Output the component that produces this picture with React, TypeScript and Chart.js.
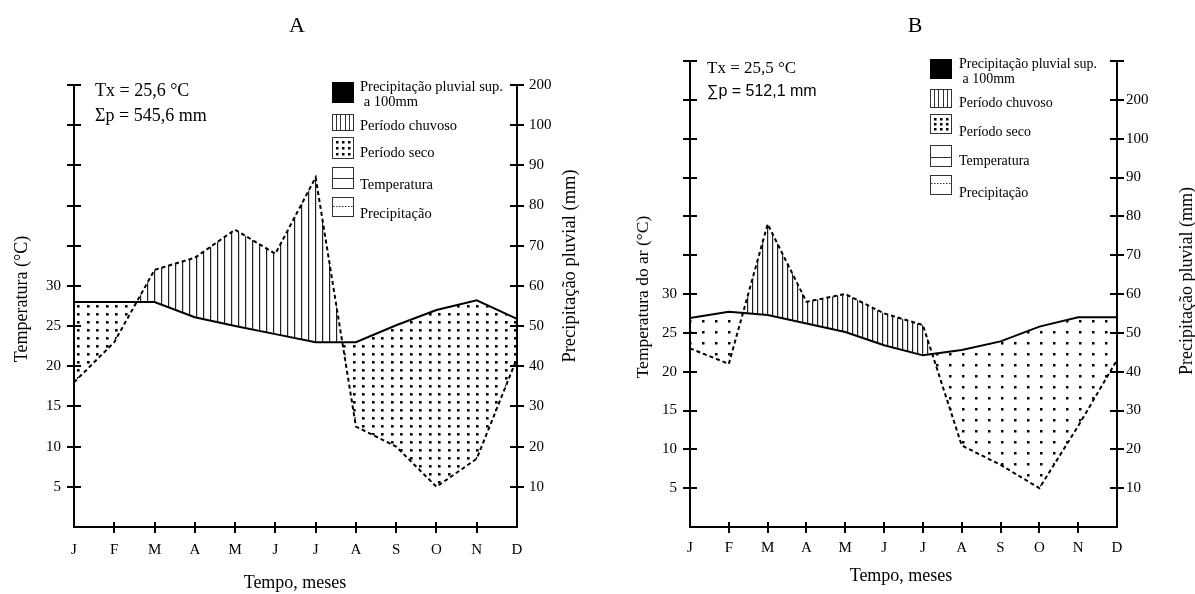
import React, { useEffect, useRef } from "react";
import { Chart, registerables } from "chart.js";

Chart.register(...registerables);

const months = ["J", "F", "M", "A", "M", "J", "J", "A", "S", "O", "N", "D"];
const temperatureA = [28.0, 28.0, 28.0, 26.1, 25.0, 24.0, 23.0, 23.0, 25.1, 27.0, 28.2, 25.9];
const precipitationA = [36, 46, 64, 67, 74, 68, 87, 25, 20, 10, 17, 42];
const temperatureB = [26.9, 27.7, 27.3, 26.2, 25.1, 23.4, 22.1, 22.8, 23.9, 25.8, 27.0, 27.0];
const precipitationB = [46, 42, 78, 58, 60, 55, 52, 21, 16, 10, 26, 43];
const temperatureTickLabels = [5, 10, 15, 20, 25, 30];
const precipitationTickLabels = ["10", "20", "30", "40", "50", "60", "70", "80", "90", "100", "200"];
const legendLabels = [
  "Precipitação pluvial sup.",
  " a 100mm",
  "Período chuvoso",
  "Período seco",
  "Temperatura",
  "Precipitação",
];

const SERIF = "'Liberation Serif', 'Times New Roman', serif";
const SANS = "'Liberation Sans', Arial, sans-serif";

type Panel = {
  letter: string;
  temp: number[];
  precip: number[];
  tMax: number;
  pMax: number;
  width: number;
  offsetX: number;
  area: { left: number; right: number; top: number; bottom: number };
  LW: number;
  RW: number;
  XH: number;
  xPad: number;
  yPad: number;
  y2Pad: number;
  leftTitle: string;
  leftTitlePos: [number, number, number];
  rightTitlePos: [number, number, number];
  xTitlePos: [number, number, number];
  letterPos: [number, number];
  tx: string;
  sp: string;
  txPos: [number, number, number];
  spPos: [number, number, number];
  spFont: string;
  hatch: number;
  dotX: number;
  dotY: number;
  dotS: number;
  leg: {
    boxX: number;
    boxW: number;
    textX: number;
    font: number;
    black: [number, number];
    hatchBox: [number, number];
    dots: [number, number];
    temp: [number, number, number];
    prec: [number, number, number];
    textY: number[];
  };
};

const panelA: Panel = {
  letter: "A",
  temp: temperatureA,
  precip: precipitationA,
  tMax: 55,
  pMax: 110,
  width: 597,
  offsetX: 0,
  area: { left: 74, right: 517, top: 85, bottom: 527 },
  LW: 74,
  RW: 60,
  XH: 66,
  xPad: 14,
  yPad: 13,
  y2Pad: 12,
  leftTitle: "Temperatura (°C)",
  leftTitlePos: [22, 299, 18],
  rightTitlePos: [570, 266, 18.5],
  xTitlePos: [295, 583, 18],
  letterPos: [297, 26],
  tx: "Tx = 25,6 °C",
  sp: "Σp = 545,6 mm",
  txPos: [95, 96, 18],
  spPos: [95, 121, 18],
  spFont: SERIF,
  hatch: 7,
  dotX: 9.5,
  dotY: 8,
  dotS: 2.6,
  leg: {
    boxX: 332,
    boxW: 22,
    textX: 360,
    font: 14.5,
    black: [82, 103],
    hatchBox: [114, 131],
    dots: [137, 159],
    temp: [167, 189, 178],
    prec: [197, 217, 206],
    textY: [86, 101, 125, 152, 184, 213],
  },
};

const panelB: Panel = {
  letter: "B",
  temp: temperatureB,
  precip: precipitationB,
  tMax: 60,
  pMax: 120,
  width: 598,
  offsetX: 597,
  area: { left: 93, right: 520, top: 61, bottom: 527 },
  LW: 93,
  RW: 60,
  XH: 59,
  xPad: 12,
  yPad: 13,
  y2Pad: 9,
  leftTitle: "Temperatura do ar (°C)",
  leftTitlePos: [46, 297, 17.5],
  rightTitlePos: [590, 281, 18],
  xTitlePos: [304, 576, 18],
  letterPos: [318, 26],
  tx: "Tx = 25,5 °C",
  sp: "∑p = 512,1 mm",
  txPos: [110, 73, 17],
  spPos: [110, 96, 16],
  spFont: SANS,
  hatch: 5,
  dotX: 13,
  dotY: 11,
  dotS: 2.5,
  leg: {
    boxX: 333,
    boxW: 22,
    textX: 362,
    font: 14,
    black: [59, 79],
    hatchBox: [89, 108],
    dots: [114, 134],
    temp: [145, 167, 157],
    prec: [175, 195, 183],
    textY: [63, 78, 102, 131, 160, 192],
  },
};

function makeHatch(ctx: CanvasRenderingContext2D, spacing: number) {
  const c = document.createElement("canvas");
  c.width = spacing;
  c.height = 16;
  const g = c.getContext("2d")!;
  g.fillStyle = "#222";
  g.fillRect(0, 0, 1.2, 16);
  return ctx.createPattern(c, "repeat")!;
}

function makeDots(ctx: CanvasRenderingContext2D, sx: number, sy: number, s: number) {
  const w = Math.round(sx * 2);
  const h = Math.round(sy * 2);
  const c = document.createElement("canvas");
  c.width = w;
  c.height = h;
  const g = c.getContext("2d")!;
  g.fillStyle = "#000";
  for (let i = 0; i < 2; i++) {
    for (let j = 0; j < 2; j++) {
      g.fillRect(1 + Math.round(i * (w / 2)), 1 + Math.round(j * (h / 2)), s, s);
    }
  }
  return ctx.createPattern(c, "repeat")!;
}

function seg(ctx: CanvasRenderingContext2D, x1: number, y1: number, x2: number, y2: number) {
  ctx.beginPath();
  ctx.moveTo(x1, y1);
  ctx.lineTo(x2, y2);
  ctx.stroke();
}

function makeDecor(p: Panel) {
  return {
    id: "decor" + p.letter,
    afterDraw(chart: any) {
      const ctx: CanvasRenderingContext2D = chart.ctx;
      const ca = chart.chartArea;
      const xs = chart.scales.x;
      const ys = chart.scales.y;
      const y2s = chart.scales.y2;
      ctx.save();
      ctx.strokeStyle = "#000";
      ctx.lineWidth = 2;
      for (let v = 5; v <= p.tMax; v += 5) {
        const py = Math.round(ys.getPixelForValue(v));
        seg(ctx, ca.left - 7, py, ca.left + 7, py);
      }
      for (let v = 10; v <= p.pMax; v += 10) {
        const py = Math.round(y2s.getPixelForValue(v));
        seg(ctx, ca.right - 7, py, ca.right + 7, py);
      }
      for (let i = 1; i < months.length - 1; i++) {
        const px = Math.round(xs.getPixelForValue(i));
        seg(ctx, px, ca.bottom - 5, px, ca.bottom + 6);
      }

      ctx.fillStyle = "#000";
      ctx.textAlign = "center";
      ctx.textBaseline = "middle";
      ctx.font = `22px ${SERIF}`;
      ctx.fillText(p.letter, p.letterPos[0], p.letterPos[1]);
      ctx.font = `${p.xTitlePos[2]}px ${SERIF}`;
      ctx.fillText("Tempo, meses", p.xTitlePos[0], p.xTitlePos[1]);
      ctx.save();
      ctx.translate(p.leftTitlePos[0], p.leftTitlePos[1]);
      ctx.rotate(-Math.PI / 2);
      ctx.font = `${p.leftTitlePos[2]}px ${SERIF}`;
      ctx.fillText(p.leftTitle, 0, 0);
      ctx.restore();
      ctx.save();
      ctx.translate(p.rightTitlePos[0], p.rightTitlePos[1]);
      ctx.rotate(-Math.PI / 2);
      ctx.font = `${p.rightTitlePos[2]}px ${SERIF}`;
      ctx.fillText("Precipitação pluvial (mm)", 0, 0);
      ctx.restore();

      ctx.textAlign = "left";
      ctx.textBaseline = "alphabetic";
      ctx.font = `${p.txPos[2]}px ${SERIF}`;
      ctx.fillText(p.tx, p.txPos[0], p.txPos[1]);
      ctx.font = `${p.spPos[2]}px ${p.spFont}`;
      ctx.fillText(p.sp, p.spPos[0], p.spPos[1]);

      const L = p.leg;
      const bx = L.boxX;
      const bw = L.boxW;
      ctx.fillRect(bx, L.black[0], bw, L.black[1] - L.black[0]);
      ctx.lineWidth = 1;
      ctx.strokeStyle = "#333";
      ctx.strokeRect(bx + 0.5, L.hatchBox[0] + 0.5, bw - 1, L.hatchBox[1] - L.hatchBox[0] - 1);
      for (let x = bx + 4; x < bx + bw - 1; x += 4.3) {
        seg(ctx, Math.round(x) + 0.5, L.hatchBox[0], Math.round(x) + 0.5, L.hatchBox[1]);
      }
      ctx.strokeRect(bx + 0.5, L.dots[0] + 0.5, bw - 1, L.dots[1] - L.dots[0] - 1);
      const dh = L.dots[1] - L.dots[0];
      for (let i = 0; i < 3; i++) {
        for (let j = 0; j < 3; j++) {
          ctx.fillRect(
            Math.round(bx + 4 + i * ((bw - 10) / 2)),
            Math.round(L.dots[0] + 4 + j * ((dh - 10) / 2)),
            2.5,
            2.5
          );
        }
      }
      ctx.strokeRect(bx + 0.5, L.temp[0] + 0.5, bw - 1, L.temp[1] - L.temp[0] - 1);
      seg(ctx, bx, L.temp[2] + 0.5, bx + bw, L.temp[2] + 0.5);
      ctx.strokeRect(bx + 0.5, L.prec[0] + 0.5, bw - 1, L.prec[1] - L.prec[0] - 1);
      ctx.setLineDash([1.5, 1.5]);
      seg(ctx, bx + 1, L.prec[2] + 0.5, bx + bw - 1, L.prec[2] + 0.5);
      ctx.setLineDash([]);
      ctx.font = `${L.font}px ${SERIF}`;
      ctx.textBaseline = "middle";
      legendLabels.forEach((s, i) => {
        ctx.fillText(s, L.textX, L.textY[i] + 1);
      });
      ctx.restore();
    },
  };
}

function ClimateChart({ panel }: { panel: Panel }) {
  const ref = useRef<HTMLCanvasElement | null>(null);
  useEffect(() => {
    const canvas = ref.current!;
    const ctx = canvas.getContext("2d")!;
    const p = panel;
    const hatch = makeHatch(ctx, p.hatch);
    const dots = makeDots(ctx, p.dotX, p.dotY, p.dotS);
    const tickFont = { family: SERIF, size: 15 };
    const chart = new Chart(canvas, {
      type: "line",
      data: {
        labels: months,
        datasets: [
          {
            label: "Temperatura",
            data: p.temp,
            yAxisID: "y",
            borderColor: "#000",
            borderWidth: 2,
            pointRadius: 0,
            tension: 0,
            fill: false,
          },
          {
            label: "Precipitação",
            data: p.precip,
            yAxisID: "y2",
            borderColor: "#000",
            borderWidth: 2,
            borderDash: [4, 3],
            pointRadius: 0,
            tension: 0,
            fill: { target: 0, above: hatch as any, below: dots as any },
          },
        ],
      },
      options: {
        responsive: false,
        animation: false,
        devicePixelRatio: 1,
        layout: {
          padding: {
            left: 0,
            right: p.width - p.area.right - p.RW,
            top: p.area.top,
            bottom: 594 - p.area.bottom - p.XH,
          },
        },
        plugins: {
          legend: { display: false },
          tooltip: { enabled: false },
          title: { display: false },
        },
        scales: {
          x: {
            type: "category",
            offset: false,
            grid: { display: false, drawTicks: false },
            border: { display: true, width: 2, color: "#000" },
            ticks: {
              padding: p.xPad,
              color: "#000",
              font: tickFont,
              autoSkip: false,
              maxRotation: 0,
            },
            afterFit: (s: any) => {
              s.height = p.XH;
            },
          },
          y: {
            type: "linear",
            position: "left",
            min: 0,
            max: p.tMax,
            grid: { display: false, drawTicks: false },
            border: { display: true, width: 2, color: "#000" },
            ticks: {
              stepSize: 5,
              padding: p.yPad,
              color: "#000",
              font: tickFont,
              autoSkip: false,
              callback: (v: any) => (temperatureTickLabels.includes(Number(v)) ? String(v) : ""),
            },
            afterFit: (s: any) => {
              s.width = p.LW;
            },
          },
          y2: {
            type: "linear",
            position: "right",
            min: 0,
            max: p.pMax,
            grid: { display: false, drawTicks: false },
            border: { display: true, width: 2, color: "#000" },
            ticks: {
              stepSize: 10,
              padding: p.y2Pad,
              color: "#000",
              font: tickFont,
              autoSkip: false,
              callback: (v: any) => {
                const i = Math.round(Number(v) / 10) - 1;
                return i >= 0 && i < precipitationTickLabels.length ? precipitationTickLabels[i] : "";
              },
            },
            afterFit: (s: any) => {
              s.width = p.RW;
            },
          },
        },
      },
      plugins: [makeDecor(p)],
    });
    return () => chart.destroy();
  }, [panel]);
  return (
    <canvas
      ref={ref}
      width={panel.width}
      height={594}
      style={{
        position: "absolute",
        left: panel.offsetX,
        top: 0,
        width: panel.width,
        height: 594,
      }}
    />
  );
}

export default function App() {
  return (
    <div
      style={{
        position: "absolute",
        left: 0,
        top: 0,
        width: 1195,
        height: 594,
        background: "#fff",
        overflow: "hidden",
      }}
    >
      <ClimateChart panel={panelA} />
      <ClimateChart panel={panelB} />
    </div>
  );
}
